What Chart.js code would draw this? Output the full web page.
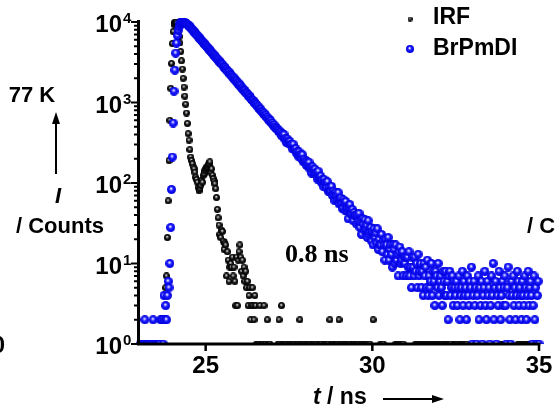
<!DOCTYPE html>
<html>
<head>
<meta charset="utf-8">
<script src="https://cdn.jsdelivr.net/npm/chart.js@4.4.0/dist/chart.umd.min.js"></script>
<style>
  html, body { margin: 0; padding: 0; background: #fff; }
  canvas { display: block; }
</style>
</head>
<body>
<canvas id="decayChart" width="555" height="409"></canvas>
<script>
// TCSPC histograms, one value per channel, 0.025 ns per channel starting at 23 ns
const channelStart = 23.0;
const channelWidth = 0.025;

const irfCounts = [
  0,0,0,0,0,0,0,0,0,0,0,0,0,0,0,0,0,0,0,0,
  0,0,0,0,0,0,0,0,0,0,0,0,5,7,21,60,190,600,1500,3050,
  5400,7600,9300,9900,10000,9700,8900,7700,6600,5500,4300,3300,2600,2000,1550,1200,950,740,550,410,
  340,260,210,190,173,158,150,136,118,110,102,88,80,85,93,107,102,124,130,142,
  150,158,160,170,173,183,136,150,125,113,105,98,85,66,47,37,30,23,21,26,
  25,19,15,18,17,7,14,11,6,9,10,9,12,7,9,6,3,12,3,11,
  14,17,12,8,11,7,9,6,8,5,6,3,4,5,2,3,5,3,2,4,
  3,1,0,1,1,3,0,1,0,1,3,0,1,0,2,1,0,1,0,0,
  0,0,0,0,0,0,0,1,2,1,0,3,1,0,1,1,0,1,0,0,
  1,1,0,1,0,1,1,0,0,1,0,1,0,2,1,0,1,1,0,0,
  1,0,1,1,0,1,0,0,1,1,0,1,0,1,0,0,1,1,0,1,
  0,0,1,0,1,1,0,1,0,2,0,1,1,0,1,0,1,1,0,1,
  2,0,1,0,1,1,0,0,1,1,0,1,0,1,0,0,1,1,0,1,
  0,1,0,1,1,0,0,1,0,1,0,1,1,0,1,0,0,1,0,0,
  0,2,0,0,0,0,0,0,0,0,1,0,1,1,0,0,0,0,0,0,
  0,0,0,0,0,0,0,0,1,0,1,1,0,1,0,1,0,1,0,0,
  0,0,0,0,0,0,0,0,0,0,0,0,1,0,1,1,0,1,0,1,
  1,0,1,1,0,1,0,1,1,0,1,0,1,0,1,1,0,1,0,1,
  0,1,1,0,1,0,0,1,0,1,1,0,1,0,1,0,0,0,1,0,
  1,1,0,1,0,0,1,0,1,1,0,1,0,1,0,0,0,0,0,0,
  0,0,0,0,0,0,0,0,0,0,0,0,0,0,0,0,0,0,0,0,
  0,0,0,0,0,0,0,0,0,0,0,0,0,0,1,0,1,1,0,1,
  0,1,0,0,0,0,0,0,0,0,0,0,0,0,0,1,0,1,1,0,
  1,0,1,1,0,1,0,1,0,1,1,0,0,1,0,0,0,0,0,0,
  0
];

const brpmdiCounts = [
  0,0,1,1,0,1,1,2,1,0,1,1,0,1,1,0,1,2,1,0,
  1,1,0,1,0,1,2,0,2,1,4,2,3,2,4,6,5,10,28,83,
  210,556,1380,2520,4100,5470,6800,7900,8800,9400,9800,10000,9980,9950,9900,9800,9700,9500,9310,9120,
  8940,8700,8460,8230,8000,7780,7570,7360,7150,6960,6770,6580,6400,6220,6050,5890,5720,5570,5410,5260,
  5120,4980,4840,4710,4580,4450,4330,4210,4090,3980,3870,3770,3660,3560,3460,3370,3270,3180,3100,3010,
  2970,2820,2760,2720,2590,2570,2450,2420,2370,2250,2230,2160,2060,2070,1990,1900,1890,1840,1740,1750,
  1690,1610,1610,1510,1520,1450,1400,1410,1320,1310,1280,1210,1220,1160,1140,1090,1060,1060,1000,990,
  950,945,890,895,850,820,825,775,770,735,735,695,695,655,655,620,620,585,590,555,
  555,525,525,495,495,470,470,445,445,420,427,387,410,380,400,350,357,317,352,331,
  307,328,298,302,265,304,263,262,268,234,247,215,243,221,225,200,225,184,197,182,
  188,165,183,165,181,150,157,133,159,146,133,149,130,135,112,140,115,116,122,101,
  110,91,111,98,102,87,104,79,88,79,79,91,70,79,73,60,77,70,61,76,
  55,62,65,56,48,62,57,46,59,46,49,36,50,54,41,42,47,34,43,39,
  40,31,40,33,42,28,33,23,36,31,26,35,27,30,21,34,23,25,28,19,
  25,17,27,21,24,18,27,15,20,17,17,23,14,19,17,11,20,17,13,21,
  11,15,17,13,9,17,15,10,17,11,13,7,14,16,10,11,14,7,12,10,
  12,7,12,9,14,7,9,5,12,9,7,12,8,10,5,13,7,8,10,5,
  8,4,10,7,9,5,11,4,7,5,6,10,4,8,6,3,8,7,5,10,
  4,6,7,5,3,8,6,4,8,4,6,2,7,8,4,5,7,3,6,5,
  4,6,3,5,7,2,4,5,8,3,6,4,5,2,7,4,3,6,5,9,
  1,4,6,3,5,1,4,7,2,5,3,6,1,4,5,8,3,2,6,4,
  5,1,3,7,4,10,2,5,6,1,4,3,8,5,2,4,6,3,5,7,
  3,1,5,9,4,2,1,6,4,7,3,5,2,4,8,6,3,5,4,2,
  6,4,3,7,5,2,4,8,3,5,6,4,1,3,7,2,5,1,4,6,
  1
];

const seriesNames = ['IRF', 'BrPmDI'];
const xTicks = [25, 30, 35];
const yDecades = [0, 1, 2, 3, 4];

const SANS = '"Liberation Sans", Arial, sans-serif';
const SERIF = '"Liberation Serif", "Times New Roman", serif';

function toPoints(counts) {
  const pts = [];
  counts.forEach((c, i) => {
    if (c > 0) pts.push({x: channelStart + i * channelWidth, y: c});
  });
  return pts;
}

// small shaded ball used as point marker
function makeBall(size, stops) {
  const c = document.createElement('canvas');
  c.width = size; c.height = size;
  const g = c.getContext('2d');
  const r = size / 2;
  const grad = g.createRadialGradient(r - r * 0.1, r - r * 0.25, r * 0.05, r, r, r);
  stops.forEach(s => grad.addColorStop(s[0], s[1]));
  g.fillStyle = grad;
  g.beginPath();
  g.arc(r, r, r, 0, Math.PI * 2);
  g.fill();
  return c;
}

const blackStops = [[0, '#eeeeee'], [0.22, '#808080'], [0.5, '#141414'], [1, '#000000']];
const blueStops = [[0, '#ffffff'], [0.18, '#a0a0ff'], [0.42, '#1a1aff'], [1, '#0000dc']];
const blackBall = makeBall(7, blackStops);
const blueBall = makeBall(9, blueStops);
const blackKey = makeBall(5, blackStops);
const blueKey = makeBall(8, blueStops);

function arrow(ctx, x1, y1, x2, y2) {
  const ang = Math.atan2(y2 - y1, x2 - x1);
  const head = 12, half = 4;
  ctx.beginPath();
  ctx.moveTo(x1, y1);
  ctx.lineTo(x2 - head * Math.cos(ang), y2 - head * Math.sin(ang));
  ctx.lineWidth = 2;
  ctx.strokeStyle = '#000';
  ctx.stroke();
  ctx.beginPath();
  ctx.moveTo(x2, y2);
  ctx.lineTo(x2 - head * Math.cos(ang) + half * Math.sin(ang), y2 - head * Math.sin(ang) - half * Math.cos(ang));
  ctx.lineTo(x2 - head * Math.cos(ang) - half * Math.sin(ang), y2 - head * Math.sin(ang) + half * Math.cos(ang));
  ctx.closePath();
  ctx.fillStyle = '#000';
  ctx.fill();
}

const decorations = {
  id: 'decorations',
  afterDraw(chart) {
    const ctx = chart.ctx;
    const xs = chart.scales.x, ys = chart.scales.y;
    const area = chart.chartArea;
    ctx.save();
    ctx.fillStyle = '#000';
    ctx.strokeStyle = '#000';

    // axes
    ctx.lineWidth = 3;
    ctx.beginPath();
    ctx.moveTo(area.left - 0.5, area.top - 2);
    ctx.lineTo(area.left - 0.5, area.bottom + 1.5);
    ctx.moveTo(area.left - 2, area.bottom);
    ctx.lineTo(area.right + 1.5, area.bottom);
    ctx.stroke();

    // y ticks (log, with minors)
    ctx.lineWidth = 2;
    ctx.beginPath();
    yDecades.forEach(d => {
      const y = ys.getPixelForValue(Math.pow(10, d));
      ctx.moveTo(area.left - 2, y);
      ctx.lineTo(area.left - 8, y);
      if (d < 4) {
        for (let m = 2; m <= 9; m++) {
          const ym = ys.getPixelForValue(m * Math.pow(10, d));
          ctx.moveTo(area.left - 2, ym);
          ctx.lineTo(area.left - 5, ym);
        }
      }
    });
    ctx.stroke();

    // x ticks
    ctx.lineWidth = 2.5;
    ctx.beginPath();
    xTicks.forEach(v => {
      const x = xs.getPixelForValue(v);
      ctx.moveTo(x, area.bottom + 1);
      ctx.lineTo(x, area.bottom + 7);
    });
    ctx.stroke();

    // y tick labels 10^n
    ctx.textBaseline = 'alphabetic';
    yDecades.forEach(d => {
      const y = ys.getPixelForValue(Math.pow(10, d));
      ctx.font = 'bold 24px ' + SANS;
      ctx.textAlign = 'right';
      ctx.fillText('10', 122, y + 10);
      ctx.font = 'bold 15px ' + SANS;
      ctx.textAlign = 'left';
      ctx.fillText(String(d), 123, y + 1);
    });

    // x tick labels
    ctx.font = 'bold 24px ' + SANS;
    ctx.textAlign = 'center';
    xTicks.forEach(v => {
      ctx.fillText(String(v), xs.getPixelForValue(v), 373);
    });

    // x title: t / ns  ---->
    ctx.textAlign = 'left';
    ctx.font = 'italic bold 23px ' + SANS;
    ctx.fillText('t', 313, 404);
    const tw = ctx.measureText('t').width;
    ctx.font = 'bold 23px ' + SANS;
    ctx.fillText(' / ns', 313 + tw, 404);
    arrow(ctx, 383, 399, 444, 399);

    // y title block on the left
    ctx.textAlign = 'center';
    ctx.font = 'bold 22px ' + SANS;
    ctx.fillText('77 K', 32, 102);
    arrow(ctx, 56, 174, 56, 112);
    ctx.font = 'italic bold 22px ' + SANS;
    ctx.fillText('I', 58, 203);
    ctx.font = 'bold 22px ' + SANS;
    ctx.fillText('/ Counts', 60, 233);

    // pieces of neighbouring panels
    ctx.textAlign = 'left';
    ctx.fillText('/ Counts', 527, 233);
    ctx.font = 'bold 24px ' + SANS;
    ctx.textAlign = 'right';
    ctx.fillText('0', 5, 353);

    // lifetime annotation
    ctx.textAlign = 'left';
    ctx.font = 'bold 26px ' + SERIF;
    ctx.fillText('0.8 ns', 285, 262);

    // legend
    ctx.drawImage(blackKey, 407.5, 16.5);
    ctx.drawImage(blueKey, 406, 45);
    ctx.font = 'bold 23px ' + SANS;
    ctx.fillText(seriesNames[0], 433, 24);
    ctx.fillText(seriesNames[1], 433, 55);

    ctx.restore();
  }
};

new Chart(document.getElementById('decayChart').getContext('2d'), {
  type: 'scatter',
  data: {
    datasets: [{
      label: seriesNames[0],
      data: toPoints(irfCounts),
      pointStyle: blackBall,
      pointRadius: 3.5,
      borderWidth: 0,
      order: 1,
      clip: {left: 6, top: 6, right: 6, bottom: 0}
    }, {
      label: seriesNames[1],
      data: toPoints(brpmdiCounts),
      pointStyle: blueBall,
      pointRadius: 4.5,
      borderWidth: 0,
      order: 0,
      clip: {left: 6, top: 6, right: 6, bottom: 0}
    }]
  },
  options: {
    responsive: false,
    animation: false,
    devicePixelRatio: 1,
    layout: {padding: {left: 139, right: 16, top: 22, bottom: 65}},
    plugins: {legend: {display: false}, tooltip: {enabled: false}},
    scales: {
      x: {type: 'linear', min: 23, max: 35, display: false},
      y: {type: 'logarithmic', min: 1, max: 10000, display: false}
    }
  },
  plugins: [decorations]
});
</script>
</body>
</html>
